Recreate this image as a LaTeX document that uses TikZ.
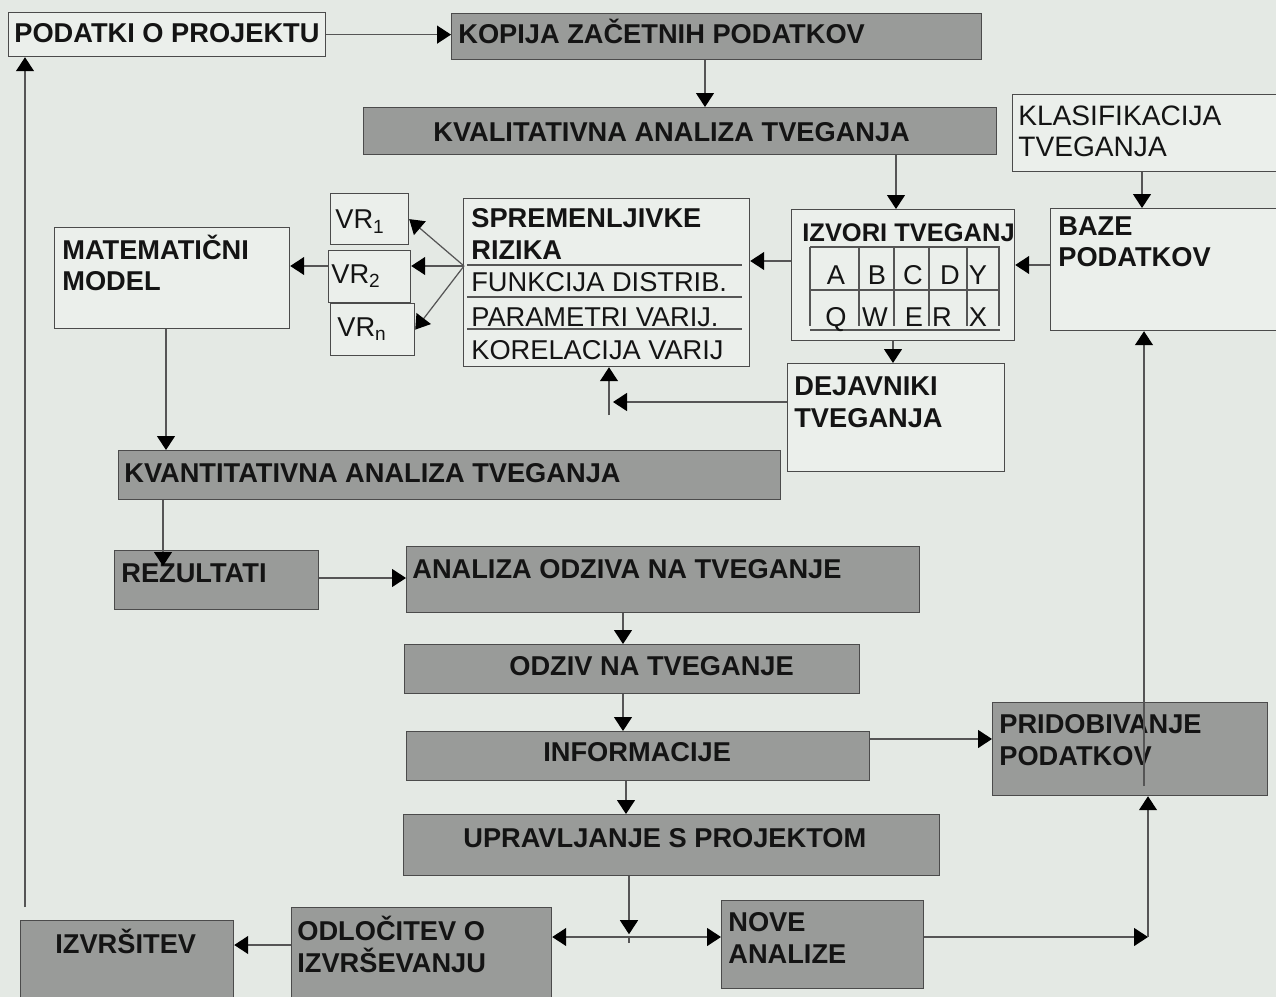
\documentclass[tikz,border=0pt]{standalone}
\usepackage{fontspec}
\setmainfont{Liberation Sans}
\usetikzlibrary{arrows.meta}
\definecolor{paper}{RGB}{228,233,228}
\definecolor{boxLight}{RGB}{235,239,235}
\definecolor{boxGray}{RGB}{153,155,153}
\definecolor{edgeGray}{RGB}{75,75,75}
\definecolor{lineGray}{RGB}{85,85,85}
\definecolor{inkBlack}{RGB}{20,20,20}

\begin{document}
\begin{tikzpicture}[
  x=0.02cm,y=-0.02cm,
  gbox/.style={rectangle,draw=edgeGray,fill=boxGray,line width=0.7pt,anchor=north west,inner sep=0pt},
  lbox/.style={rectangle,draw=edgeGray,fill=boxLight,line width=0.7pt,anchor=north west,inner sep=0pt},
  sz/.style 2 args={minimum width=#1*0.02cm,minimum height=#2*0.02cm},
  head/.style={anchor=base west,inner sep=0pt,text=inkBlack,align=left,font=\fontsize{15.5}{18.2}\selectfont\bfseries},
  plain/.style={anchor=base west,inner sep=0pt,text=inkBlack,align=left,font=\fontsize{15.5}{18.2}\selectfont},
  arrow/.style={-{Triangle[length=0.28cm,width=0.36cm,color=black]},line width=0.7pt,lineGray},
  rule/.style={line width=0.7pt,lineGray}
]
  \useasboundingbox (0,0) rectangle (1276,997);
  \fill[paper] (0,0) rectangle (1276,997);
  \clip (0,0) rectangle (1276,997);

  % top row
  \node[lbox,sz={317}{44}] (podatki) at (8,12) {};
  \node[head] (t-podatki) at (14,43) {PODATKI O PROJEKTU};
  \node[gbox,sz={530}{46}] (kopija) at (451,13) {};
  \node[head] (t-kopija) at (458,44) {KOPIJA ZAČETNIH PODATKOV};
  \node[gbox,sz={633}{47}] (kval) at (363,107) {};
  \node[head] (t-kval) at (433,142) {KVALITATIVNA ANALIZA TVEGANJA};
  \node[lbox,sz={280}{77}] (klas) at (1012,94) {};
  \node[plain,font=\fontsize{16}{18.2}\selectfont] (t-klas) at (1018,157) {KLASIFIKACIJA\\TVEGANJA};

  % risk variables
  \node[lbox,sz={286}{168}] (sprem) at (463,198) {};
  \node[head] (t-sprem) at (471,259) {SPREMENLJIVKE\\RIZIKA};
  \node[plain] (t-funk) at (471,292) {FUNKCIJA DISTRIB.};
  \node[plain] (t-param) at (471,326) {PARAMETRI VARIJ.};
  \node[plain] (t-korel) at (471,359) {KORELACIJA VARIJ};
  \foreach \ly in {265,297,329}
    \draw[rule] (467,\ly) -- (742,\ly);

  \node[lbox,sz={78}{51}] (vr1) at (330,193) {};
  \node[plain] (t-vr1) at (335,229) {VR\textsubscript{1}};
  \node[lbox,sz={82}{52}] (vr2) at (328,250) {};
  \node[plain] (t-vr2) at (331,283) {VR\textsubscript{2}};
  \node[lbox,sz={84}{52}] (vrn) at (330,303) {};
  \node[plain] (t-vrn) at (337,337) {VR\textsubscript{n}};

  \node[lbox,sz={235}{101}] (mat) at (54,227) {};
  \node[head] (t-mat) at (62,291) {MATEMATIČNI\\MODEL};

  % risk sources
  \node[lbox,sz={223}{131}] (izvori) at (791,209) {};
  \node[head,font=\fontsize{14.5}{17}\selectfont\bfseries] (t-izvori) at (802,242) {IZVORI TVEGANJ};
  \foreach \gx in {810,859,894,929,967,999}
    \draw[rule] (\gx,247) -- (\gx,326);
  \foreach \gy in {247,290,330}
    \draw[rule] (810,\gy) -- (1000,\gy);
  \foreach \ch/\cx in {A/836,B/877,C/913,D/950,Y/978}
    \node[plain,anchor=base] (g-\ch) at (\cx,284) {\ch};
  \foreach \ch/\cx in {Q/836,W/875,E/914,R/942,X/978}
    \node[plain,anchor=base] (g-\ch) at (\cx,326) {\ch};

  \node[lbox,sz={230}{122}] (baze) at (1050,208) {};
  \node[head] (t-baze) at (1058,267) {BAZE\\PODATKOV};
  \node[lbox,sz={217}{108}] (dejav) at (787,363) {};
  \node[head] (t-dejav) at (794,427) {DEJAVNIKI\\TVEGANJA};

  % quantitative part
  \node[gbox,sz={662}{49}] (kvant) at (118,450) {};
  \node[head] (t-kvant) at (124,482) {KVANTITATIVNA ANALIZA TVEGANJA};
  \node[gbox,sz={204}{59}] (rez) at (114,550) {};
  \node[head] (t-rez) at (121,582) {REZULTATI};
  \node[gbox,sz={513}{66}] (odziva) at (406,546) {};
  \node[head] (t-odziva) at (412,578) {ANALIZA ODZIVA NA TVEGANJE};
  \node[gbox,sz={455}{49}] (odziv) at (404,644) {};
  \node[head] (t-odziv) at (509,675) {ODZIV NA TVEGANJE};
  \node[gbox,sz={463}{49}] (info) at (406,731) {};
  \node[head] (t-info) at (543,761) {INFORMACIJE};
  \node[gbox,sz={275}{93}] (prid) at (992,702) {};
  \node[head] (t-prid) at (999,765) {PRIDOBIVANJE\\PODATKOV};
  \node[gbox,sz={536}{61}] (upr) at (403,814) {};
  \node[head] (t-upr) at (463,847) {UPRAVLJANJE S PROJEKTOM};

  % bottom row
  \node[gbox,sz={213}{90}] (izv) at (20,920) {};
  \node[head] (t-izv) at (55,953) {IZVRŠITEV};
  \node[gbox,sz={260}{103}] (odl) at (291,907) {};
  \node[head] (t-odl) at (297,972) {ODLOČITEV O\\IZVRŠEVANJU};
  \node[gbox,sz={202}{88}] (nove) at (721,900) {};
  \node[head] (t-nove) at (728,963) {NOVE\\ANALIZE};

  % connectors
  \coordinate (fan) at (464,266);
  \coordinate (back) at (25,907);
  \coordinate (rezin) at (163,566);
  \coordinate (dejout) at (613,402);
  \coordinate (sprin) at (609,415);
  \coordinate (split) at (629,937);
  \coordinate (pridin) at (1148,937);
  \coordinate (bazein) at (1144,786);

  \draw[arrow] (podatki.east) -- (kopija.west |- podatki.east);
  \draw[arrow] (705,0 |- kopija.south) -- (705,0 |- kval.north);
  \draw[arrow] (896,0 |- kval.south) -- (896,0 |- izvori.north);
  \draw[arrow] (1142,0 |- klas.south) -- (1142,0 |- baze.north);
  \draw[arrow] (baze.west |- 0,265) -- (izvori.east |- 0,265);
  \draw[arrow] (izvori.west |- 0,261) -- (sprem.east |- 0,261);
  \draw[arrow] (fan) -- (vr1.east);
  \draw[arrow] (fan) -- (vr2.east |- fan);
  \draw[arrow] (fan) -- (vrn.east);
  \draw[arrow] (vr2.west |- fan) -- (mat.east |- fan);
  \draw[arrow] (166,0 |- mat.south) -- (166,0 |- kvant.north);
  \draw[arrow] (893,0 |- izvori.south) -- (893,0 |- dejav.north);
  \draw[arrow] (dejav.west |- dejout) -- (dejout);
  \draw[arrow] (sprin) -- (sprin |- sprem.south);
  \draw[arrow] (163,0 |- kvant.south) -- (rezin);
  \draw[arrow] (rez.east |- 0,578) -- (odziva.west |- 0,578);
  \draw[arrow] (623,0 |- odziva.south) -- (623,0 |- odziv.north);
  \draw[arrow] (623,0 |- odziv.south) -- (623,0 |- info.north);
  \draw[arrow] (626,0 |- info.south) -- (626,0 |- upr.north);
  \draw[arrow] (info.east |- 0,739) -- (prid.west |- 0,739);
  \draw[arrow] (split |- upr.south) -- +(0,58);
  \draw[rule] (split) -- +(0,6);
  \draw[arrow] (split) -- (odl.east |- split);
  \draw[arrow] (split) -- (nove.west |- split);
  \draw[arrow] (odl.west |- 0,945) -- (izv.east |- 0,945);
  \draw[arrow] (nove.east |- pridin) -- (pridin);
  \draw[arrow] (pridin) -- (pridin |- prid.south);
  \draw[arrow] (bazein) -- (bazein |- baze.south);
  \draw[arrow] (back) -- (back |- podatki.south);
\end{tikzpicture}
\end{document}
